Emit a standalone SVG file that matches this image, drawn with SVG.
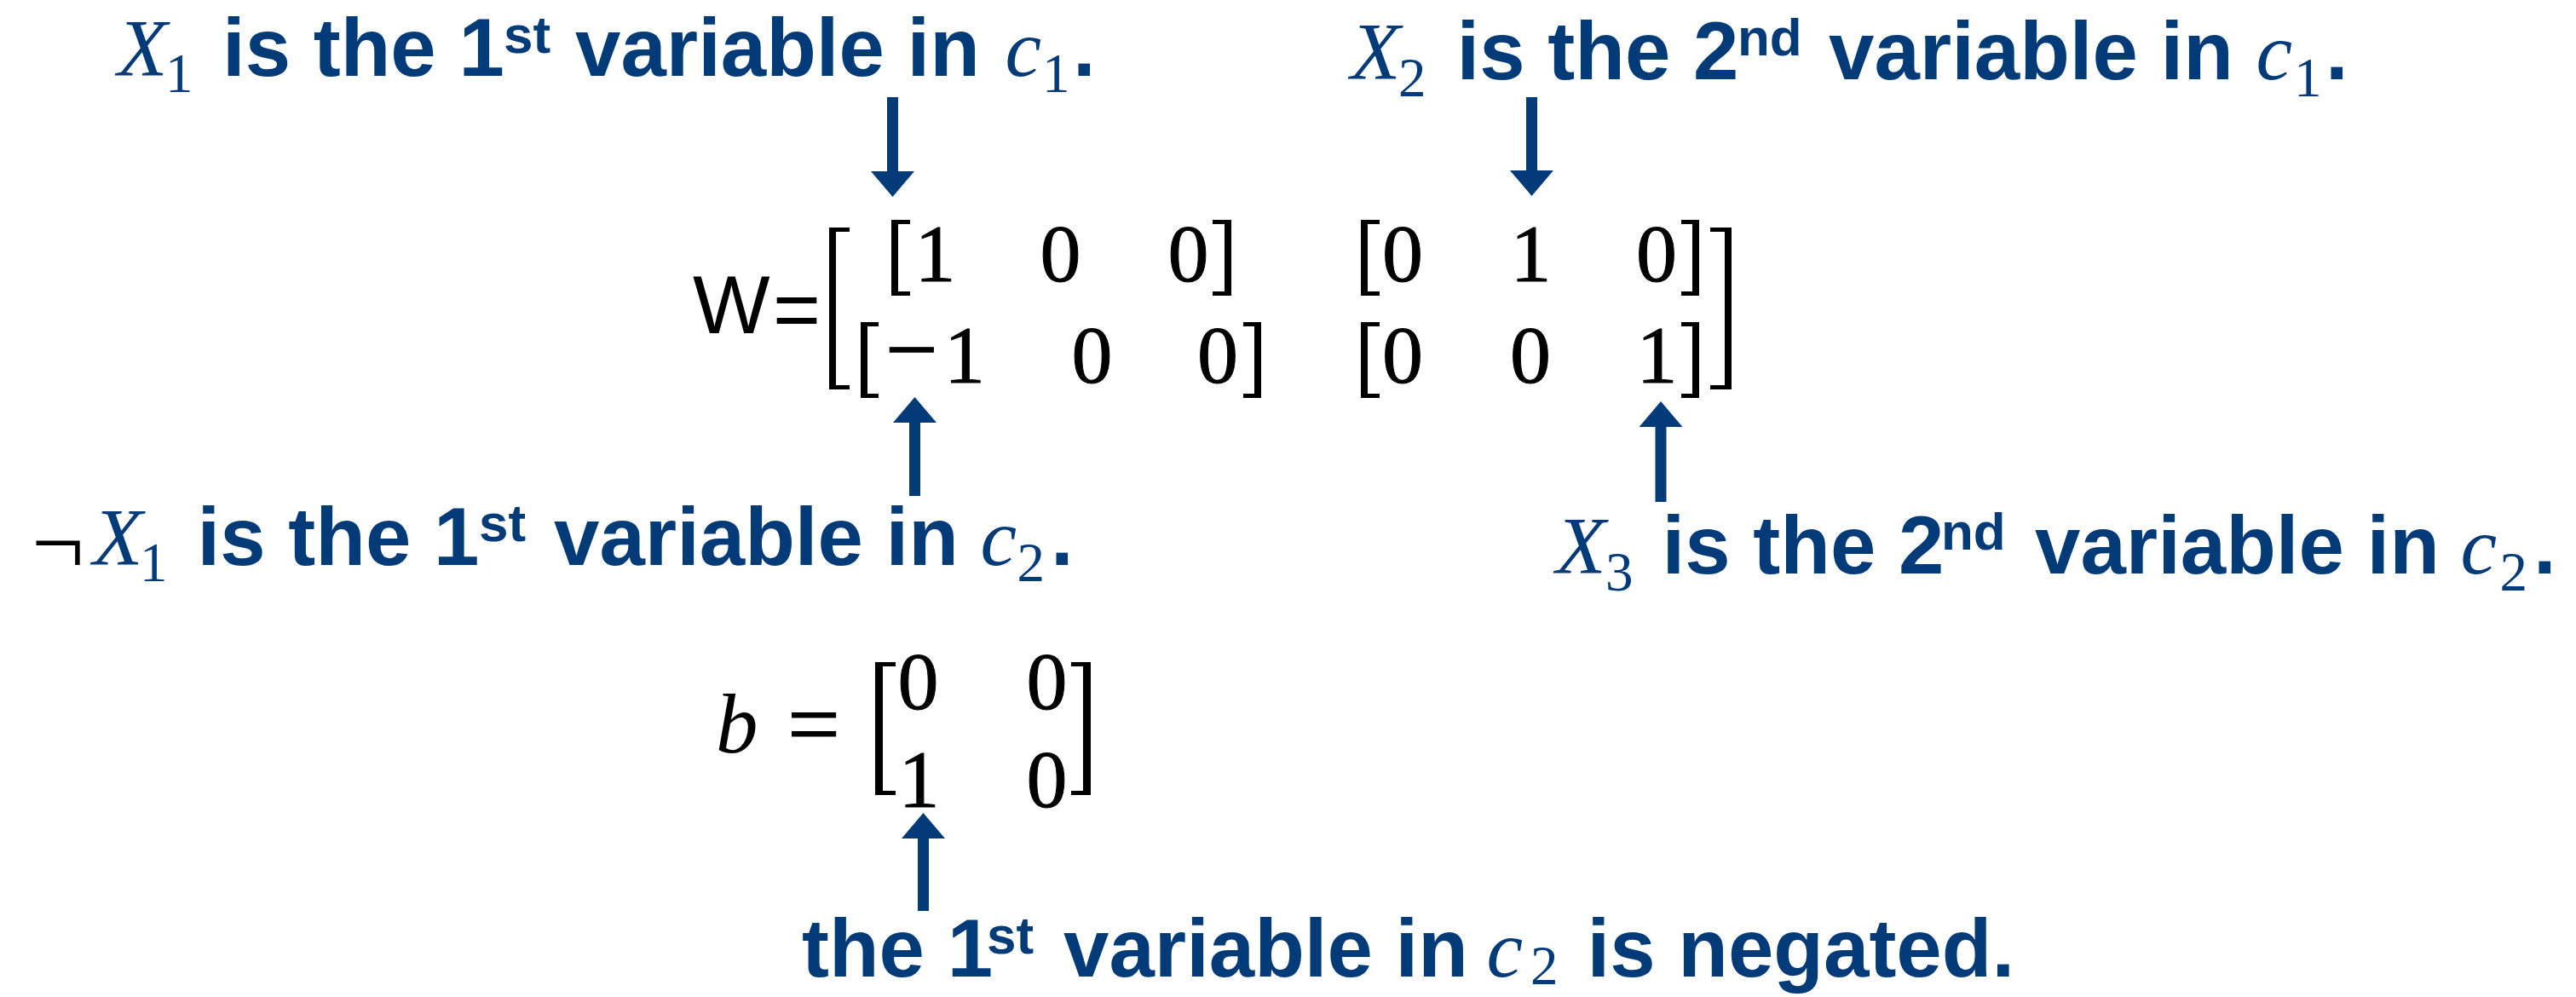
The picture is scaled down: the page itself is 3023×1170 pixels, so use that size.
<svg xmlns="http://www.w3.org/2000/svg" width="3023" height="1170" viewBox="0 0 3023 1170">
<style>
.lbl{font-family:"Liberation Sans",Arial,sans-serif;font-weight:bold;font-size:96px;fill:#023b78}
.sup{font-size:62px}
.mi{font-family:"Liberation Serif","Times New Roman",serif;font-style:italic;font-weight:normal;font-size:96px}
.sub{font-family:"Liberation Serif","Times New Roman",serif;font-style:normal;font-weight:normal;font-size:65px}
.neg{font-family:"Liberation Serif","Times New Roman",serif;font-weight:normal;font-size:110px;fill:#000}
.mat{font-family:"Liberation Serif","Times New Roman",serif;font-size:96px;fill:#000;stroke:#000;stroke-width:1}
.w{font-family:"Liberation Sans",Arial,sans-serif;font-size:96px;fill:#000}
.br{fill:#000}
.arr{stroke:#023b78;stroke-width:13;fill:none}
</style>
<defs>
<marker id="ah" markerUnits="userSpaceOnUse" viewBox="0 0 30 51" markerWidth="30" markerHeight="51" refX="0" refY="25.5" orient="auto">
<path d="M0,0 L30,25.5 L0,51 Z" fill="#023b78"/>
</marker>
</defs>
<rect width="3023" height="1170" fill="#fff"/>

<g id="label-x1-c1">
<text class="lbl" y="89"><tspan class="mi" x="138">X</tspan><tspan class="sub" x="194" y="108">1 </tspan><tspan x="261" y="89">is the 1</tspan><tspan class="sup" x="591" y="62">st </tspan><tspan x="675" y="89">variable in </tspan><tspan class="mi" x="1179.5">c</tspan><tspan class="sub" x="1223" y="108">1</tspan><tspan x="1259" y="89">.</tspan></text>
</g>

<g id="label-x2-c1">
<text class="lbl" y="93"><tspan class="mi" x="1585">X</tspan><tspan class="sub" x="1641" y="113">2 </tspan><tspan x="1709.6" y="93">is the 2</tspan><tspan class="sup" x="2039" y="65">nd </tspan><tspan x="2146" y="93">variable in </tspan><tspan class="mi" x="2647.5">c</tspan><tspan class="sub" x="2692" y="113">1</tspan><tspan x="2729" y="93">.</tspan></text>
</g>

<g id="matrix-w">
<text class="w" x="813" y="391">W<tspan x="907" y="396">=</tspan></text>
<path class="br" d="M973 267H997V272H981V452H997V457H973Z"/>
<path class="br" d="M2032 267H2007V272H2024V452H2007V457H2032Z"/>
<path class="br" d="M1046 258H1068V263H1054V342H1068V347H1046Z"/>
<path class="br" d="M1445 258H1423V263H1437V342H1423V347H1445Z"/>
<path class="br" d="M1597 258H1619V263H1605V342H1619V347H1597Z"/>
<path class="br" d="M1994 258H1973V263H1986V342H1973V347H1994Z"/>
<path class="br" d="M1010 378H1031V383H1018V462H1031V467H1010Z"/>
<path class="br" d="M1480 378H1459V383H1472V462H1459V467H1480Z"/>
<path class="br" d="M1597 378H1619V383H1605V462H1619V467H1597Z"/>
<path class="br" d="M1994 378H1973V383H1986V462H1973V467H1994Z"/>
<text class="mat" y="329.5"><tspan x="1073.5">1 </tspan><tspan x="1220.5">0 </tspan><tspan x="1370.5">0 </tspan><tspan x="1622">0 </tspan><tspan x="1772.5">1 </tspan><tspan x="1920">0</tspan></text>
<text class="mat" y="448.5"><tspan x="1038.5" y="447" style="font-size:110px">−</tspan><tspan x="1108" y="448.5">1 </tspan><tspan x="1257.5">0 </tspan><tspan x="1405">0 </tspan><tspan x="1622">0 </tspan><tspan x="1772">0 </tspan><tspan x="1920.5">1</tspan></text>
</g>

<g id="label-notx1-c2">
<text class="lbl" y="663"><tspan class="neg" x="37" y="674">¬</tspan><tspan class="mi" x="109" y="663">X</tspan><tspan class="sub" x="164" y="682">1 </tspan><tspan x="231.6" y="663">is the 1</tspan><tspan class="sup" x="562" y="635">st </tspan><tspan x="650" y="663">variable in </tspan><tspan class="mi" x="1150.5">c</tspan><tspan class="sub" x="1193.5" y="682">2</tspan><tspan x="1233" y="663">.</tspan></text>
</g>

<g id="label-x3-c2">
<text class="lbl" y="673"><tspan class="mi" x="1826">X</tspan><tspan class="sub" x="1884" y="693">3 </tspan><tspan x="1950.6" y="673">is the 2</tspan><tspan class="sup" x="2278" y="645">nd </tspan><tspan x="2388" y="673">variable in </tspan><tspan class="mi" x="2887.5">c</tspan><tspan class="sub" x="2933.5" y="693">2</tspan><tspan x="2973" y="673">.</tspan></text>
</g>

<g id="matrix-b">
<text class="mi" x="840" y="883" style="fill:#000;font-size:99px">b</text>
<text class="mat" x="955" y="887" text-anchor="middle" style="font-size:110px">=</text>
<path class="br" d="M1027 777H1051V782H1036V928H1051V933H1027Z"/>
<path class="br" d="M1280 777H1257V782H1271V928H1257V933H1280Z"/>
<text class="mat" y="832"><tspan x="1053.5">0 </tspan><tspan x="1204.5">0</tspan></text>
<text class="mat" y="946.5"><tspan x="1054.5">1 </tspan><tspan x="1204.5">0</tspan></text>
</g>

<g id="label-negated">
<text class="lbl" y="1146"><tspan x="941">the 1</tspan><tspan class="sup" x="1158" y="1119">st </tspan><tspan x="1248" y="1146">variable in </tspan><tspan class="mi" x="1744.5">c</tspan><tspan class="sub" x="1796" y="1155">2 </tspan><tspan x="1862.6" y="1146">is negated.</tspan></text>
</g>

<g id="connectors">
<line class="arr" x1="1047.5" y1="114" x2="1047.5" y2="201" marker-end="url(#ah)"/>
<line class="arr" x1="1797.5" y1="114" x2="1797.5" y2="200" marker-end="url(#ah)"/>
<line class="arr" x1="1073.5" y1="582" x2="1073.5" y2="496" marker-end="url(#ah)"/>
<line class="arr" x1="1949" y1="589" x2="1949" y2="501" marker-end="url(#ah)"/>
<line class="arr" x1="1083.5" y1="1069" x2="1083.5" y2="984" marker-end="url(#ah)"/>
</g>
</svg>
